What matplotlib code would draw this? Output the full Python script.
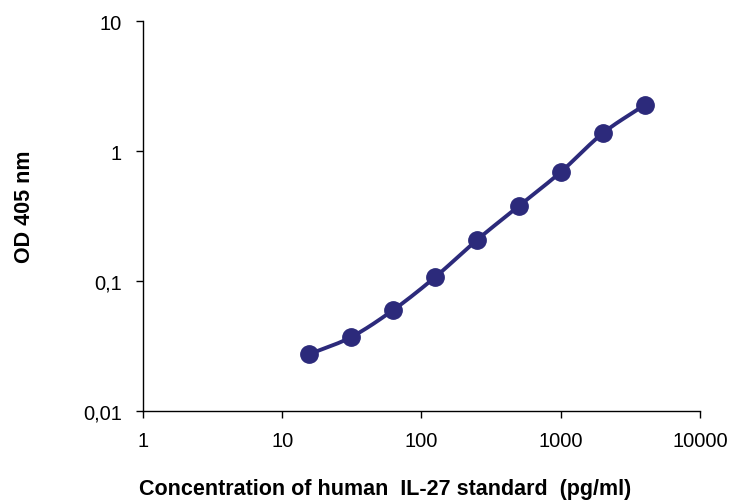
import numpy as np
import matplotlib
matplotlib.use("Agg")
import matplotlib.pyplot as plt
from matplotlib.ticker import FixedLocator, NullLocator

plt.rcParams['font.family'] = ['Liberation Sans', 'DejaVu Sans']

# standard curve values
conc = [15.625, 31.25, 62.5, 125, 250, 500, 1000, 2000, 4000]
od = [0.0274, 0.0371, 0.0598, 0.107, 0.207, 0.378, 0.69, 1.37, 2.26]

x_ticks = [1, 10, 100, 1000, 10000]
x_labels = ["1", "10", "100", "1000", "10000"]
y_ticks = [0.01, 0.1, 1, 10]
y_labels = ["0,01", "0,1", "1", "10"]

color = "#2C2A7B"


def smooth(xs, ys, n=20):
    # Catmull-Rom through the points in log-log space
    lx, ly = np.log10(xs), np.log10(ys)
    px = np.concatenate([[2 * lx[0] - lx[1]], lx, [2 * lx[-1] - lx[-2]]])
    py = np.concatenate([[2 * ly[0] - ly[1]], ly, [2 * ly[-1] - ly[-2]]])
    outx, outy = [], []
    t = np.linspace(0, 1, n)
    for i in range(1, len(px) - 2):
        for p, out in ((px, outx), (py, outy)):
            p0, p1, p2, p3 = p[i - 1], p[i], p[i + 1], p[i + 2]
            out.extend(0.5 * (2 * p1 + (-p0 + p2) * t
                              + (2 * p0 - 5 * p1 + 4 * p2 - p3) * t ** 2
                              + (-p0 + 3 * p1 - 3 * p2 + p3) * t ** 3))
    return 10 ** np.array(outx), 10 ** np.array(outy)


fig = plt.figure(figsize=(7.33, 5.02), dpi=100)
ax = fig.add_axes([0.195, 0.179, 0.76, 0.777])

sx, sy = smooth(conc, od)
ax.plot(sx, sy, color=color, lw=2.8, zorder=2)
ax.plot(conc, od, 'o', color=color, ms=12.5, zorder=3)

ax.set_xscale('log')
ax.set_yscale('log')
ax.set_xlim(1, 10000)
ax.set_ylim(0.01, 10)
ax.xaxis.set_major_locator(FixedLocator(x_ticks))
ax.yaxis.set_major_locator(FixedLocator(y_ticks))
ax.xaxis.set_minor_locator(NullLocator())
ax.yaxis.set_minor_locator(NullLocator())
ax.set_xticklabels(x_labels, fontsize=14.5)
ax.set_yticklabels(y_labels, fontsize=14.5)
ax.tick_params(direction='out', length=5, width=1)
ax.tick_params(axis='x', pad=9)
ax.tick_params(axis='y', pad=10)

for side in ['top', 'right']:
    ax.spines[side].set_visible(False)
for side in ['left', 'bottom']:
    ax.spines[side].set_linewidth(1)

fig.text(385 / 733, 1 - 490 / 502,
         "Concentration of human  IL-27 standard  (pg/ml)",
         fontsize=15.5, fontweight='bold', ha='center', va='center')
fig.text(25 / 733, 1 - 207 / 502, "OD 405 nm", fontsize=15.5,
         fontweight='bold', rotation=90, ha='center', va='center')

fig.savefig("out.png", dpi=100)
